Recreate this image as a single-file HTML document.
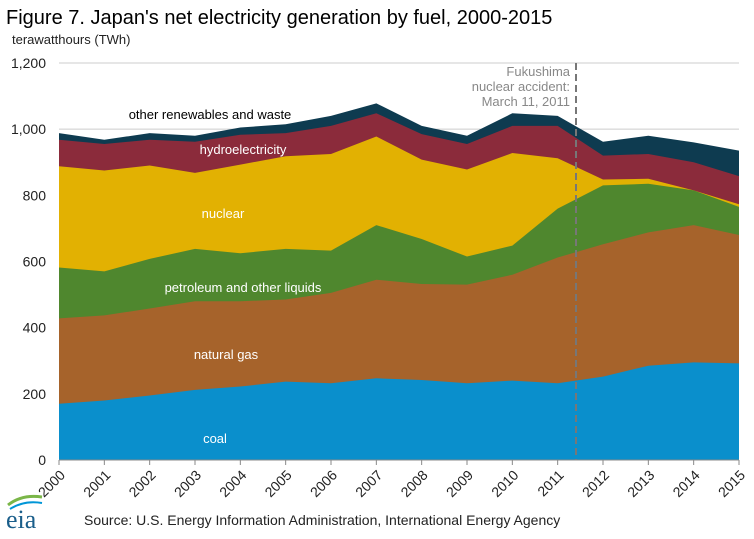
<!DOCTYPE html>
<html><head><meta charset="utf-8"><style>
body{margin:0;background:#fff;width:754px;height:534px;overflow:hidden;font-family:"Liberation Sans",sans-serif}
</style></head><body>
<svg id="s" width="754" height="534" xmlns="http://www.w3.org/2000/svg" font-family="Liberation Sans, sans-serif">
<text x="6" y="24" font-size="20" fill="#000">Figure 7. Japan's net electricity generation by fuel, 2000-2015</text>
<text x="12" y="44" font-size="13" fill="#222">terawatthours  (TWh)</text>
<g id="grid"></g>
<g id="areas"></g>
<line x1="576" y1="63" x2="576" y2="460" stroke="#777" stroke-width="2" stroke-dasharray="7,4"/>
<text font-size="13" fill="#888" text-anchor="end"><tspan x="570" y="76">Fukushima</tspan><tspan x="570" y="91">nuclear accident:</tspan><tspan x="570" y="106">March 11, 2011</tspan></text>
<g font-size="13" fill="#fff" text-anchor="middle">
<text x="210" y="119" fill="#000">other renewables  and waste</text>
<text x="243" y="154">hydroelectricity</text>
<text x="223" y="218">nuclear</text>
<text x="243" y="292">petroleum  and other liquids</text>
<text x="226" y="359">natural gas</text>
<text x="215" y="443">coal</text>
</g>
<g id="ax"></g>
<text x="6" y="528" font-family="Liberation Serif, serif" font-size="26" fill="#1a5e8a">eia</text>
<path d="M8 505 Q22 494 42 497" stroke="#7ab648" stroke-width="3" fill="none"/>
<path d="M10 509 Q24 500 42 503" stroke="#0096d7" stroke-width="2" fill="none"/>
<text x="84" y="525" font-size="14" fill="#222">Source: U.S. Energy Information Administration, International Energy Agency</text>
</svg>
<script>
var X=function(i){return 59+i*680/15},Y=function(v){return 460-v*397/1200};
var d=[
[170,180,195,212,222,237,232,247,242,232,240,232,252,285,295,292],
[428,437,458,480,480,485,505,545,532,530,560,612,652,688,710,680],
[582,570,608,638,625,638,633,710,668,615,648,760,830,835,815,765],
[888,875,890,868,893,918,925,978,908,878,928,912,848,850,815,773],
[968,955,968,962,983,988,1010,1048,985,955,1010,1010,920,925,900,858],
[988,968,988,980,1005,1015,1040,1078,1010,980,1048,1040,962,980,960,935]];
var c=["#0a8fcc","#a6632b","#4f872e","#e2b102","#8b2b3b","#0e3b50"];
var ns="http://www.w3.org/2000/svg",s=document.getElementById("s");
function el(g,t,a,txt){var e=document.createElementNS(ns,t);for(var k in a)e.setAttribute(k,a[k]);if(txt!=null)e.textContent=txt;document.getElementById(g).appendChild(e);return e}
for(var k=0;k<=6;k++){var y=Y(k*200);el("grid","line",{x1:59,x2:739,y1:y,y2:y,stroke:"#ccc","stroke-width":1});
el("ax","text",{x:46,y:y+5,"font-size":14,"text-anchor":"end",fill:"#222"},k==6?"1,200":k==5?"1,000":String(k*200));}
for(var j=5;j>=0;j--){var p="M"+X(0)+","+Y(0);for(var i=0;i<16;i++)p+=" L"+X(i)+","+Y(d[j][i]);p+=" L"+X(15)+","+Y(0)+"Z";el("areas","path",{d:p,fill:c[j]});}
el("ax","line",{x1:59,x2:739,y1:460,y2:460,stroke:"#888"});
for(var i=0;i<16;i++){var x=X(i);el("ax","line",{x1:x,x2:x,y1:460,y2:465,stroke:"#888"});
el("ax","text",{x:x+7,y:476,"font-size":14,"text-anchor":"end",fill:"#222",transform:"rotate(-45 "+(x+7)+" 476)"},String(2000+i));}
</script>
</body></html>
